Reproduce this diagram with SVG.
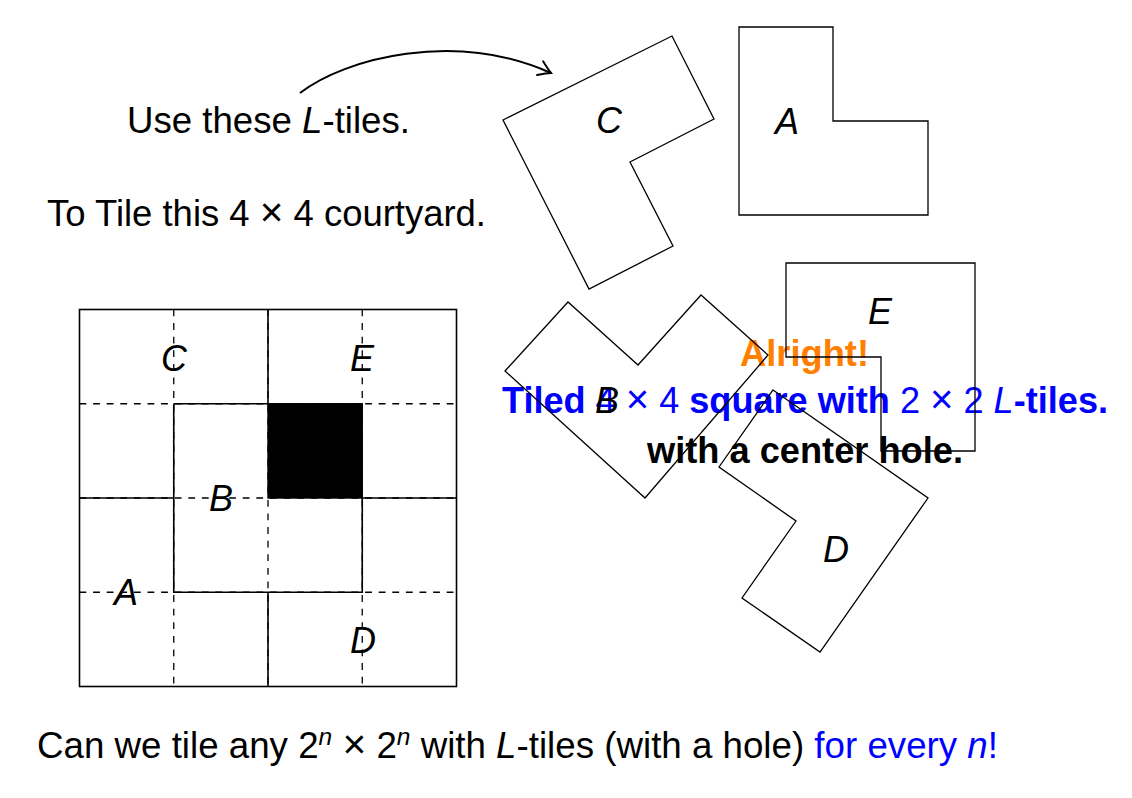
<svg xmlns="http://www.w3.org/2000/svg" width="1132" height="798" viewBox="0 0 1132 798">
<style>
text{font-family:"Liberation Sans",Arial,Helvetica,sans-serif;font-size:36px;fill:#000}
.it{font-style:italic}
.b{font-weight:bold}
.n{font-weight:normal}
.sup{font-size:24px}
.x{font-weight:normal;font-size:40px}
.tile{fill:none;stroke:#000;stroke-width:1.3;stroke-linejoin:miter}
.lbl{font-style:italic;text-anchor:middle}
.grid{stroke:#000;stroke-width:1.6;fill:none}
.dash{stroke:#000;stroke-width:1.3;stroke-dasharray:6.8 6.8;fill:none}
.blue{fill:#0000ff}
.orange{fill:#ff8000}
</style>
<defs>
<marker id="ah" markerUnits="userSpaceOnUse" viewBox="-14 -10 16 20" markerWidth="16" markerHeight="20" refX="0" refY="0" orient="auto" overflow="visible">
<path d="M-12,-7.5 Q-4,-2 0,0 Q-4,2 -12,7.5" fill="none" stroke="#000" stroke-width="2" stroke-linecap="round"/>
</marker>
</defs>
<rect width="1132" height="798" fill="#fff"/>

<g id="texts">
<text x="127" y="133" textLength="283" lengthAdjust="spacingAndGlyphs">Use these <tspan class="it">L</tspan>-tiles.</text>
<text x="47" y="226" textLength="439" lengthAdjust="spacingAndGlyphs">To Tile this 4 <tspan class="x">×</tspan> 4 courtyard.</text>
<text x="37" y="758" textLength="961" lengthAdjust="spacingAndGlyphs">Can we tile any 2<tspan class="it sup" dy="-13">n</tspan><tspan dy="13"> </tspan><tspan class="x">×</tspan> 2<tspan class="it sup" dy="-13">n</tspan><tspan dy="13"> with </tspan><tspan class="it">L</tspan>-tiles (with a hole) <tspan class="blue">for every <tspan class="it">n</tspan>!</tspan></text>
<text x="740" y="366" class="b orange" textLength="129" lengthAdjust="spacingAndGlyphs">Alright!</text>
<text x="502" y="413" class="b blue" textLength="606" lengthAdjust="spacingAndGlyphs">Tiled <tspan class="n">4 </tspan><tspan class="x">×</tspan><tspan class="n"> 4</tspan> square with <tspan class="n">2 </tspan><tspan class="x">×</tspan><tspan class="n"> 2</tspan> <tspan class="n it">L</tspan>-tiles.</text>
<text x="647" y="463" class="b" textLength="316" lengthAdjust="spacingAndGlyphs">with a center hole.</text>
</g>

<g id="courtyard">
<path class="dash" d="M79.5 403.75H456.5 M79.5 498H456.5 M79.5 592.25H456.5 M173.75 309.5V686.5 M268 309.5V686.5 M362.25 309.5V686.5"/>
<path class="grid" d="M268 309.5V403.75 M79.5 498H173.75 M362.25 498H456.5 M268 592.25V686.5 M173.75 403.75H268 M173.75 403.75V592.25H362.25V498"/>
<rect x="268" y="403.75" width="94.25" height="94.25" fill="#000" stroke="#000" stroke-width="1.4"/>
<rect class="grid" x="79.5" y="309.5" width="377" height="377"/>
<text class="lbl" x="174" y="371">C</text>
<text class="lbl" x="362" y="371">E</text>
<text class="lbl" x="221" y="511">B</text>
<text class="lbl" x="126" y="605">A</text>
<text class="lbl" x="363" y="653">D</text>
</g>

<g id="tileC">
<polygon class="tile" points="503,120 672,36 714,119 630,162 673,246 589,289"/>
<text class="lbl" x="609" y="133">C</text>
</g>
<g id="tileA">
<polygon class="tile" points="739,27 833,27 833,121 928,121 928,215 739,215"/>
<text class="lbl" x="787" y="134">A</text>
</g>
<g id="tileE">
<polygon class="tile" points="786,263 975,263 975,451 881,451 881,357 786,357"/>
<text class="lbl" x="880" y="324">E</text>
</g>
<g id="tileB">
<polygon class="tile" points="505,371 568,302 638,365 701,295 768,355 645,498"/>
<text class="lbl" x="607" y="413">B</text>
</g>
<g id="tileD">
<polygon class="tile" points="773,390 928,498 820,652 742,598 796,521 719,467"/>
<text class="lbl" x="836" y="562">D</text>
</g>

<g id="connectors">
<path d="M300,93 C345,58 455,30 551,73" fill="none" stroke="#000" stroke-width="2" marker-end="url(#ah)"/>
</g>
</svg>
